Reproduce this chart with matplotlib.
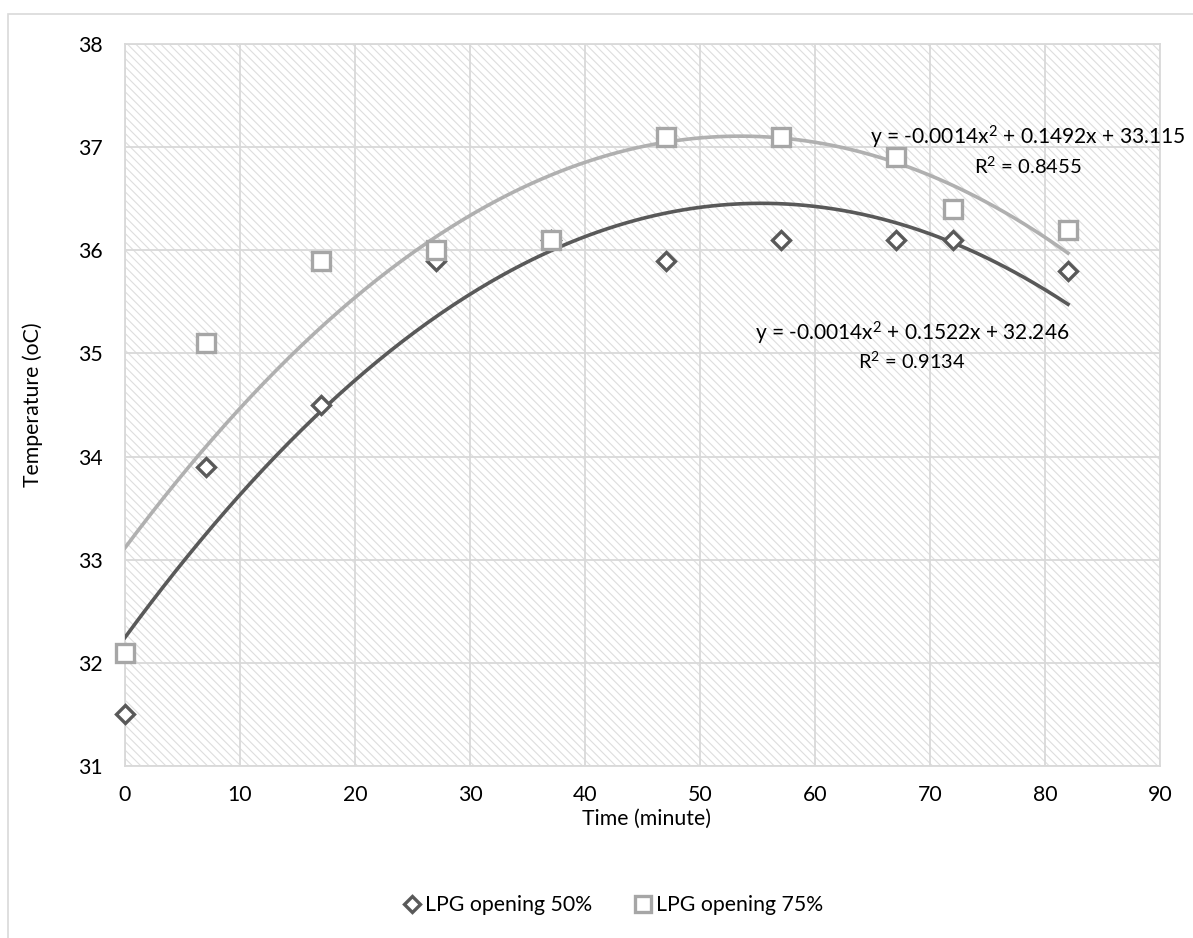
import numpy as np
import matplotlib
matplotlib.use("Agg")
import matplotlib.pyplot as plt
from matplotlib.patches import Rectangle

plt.rcParams['font.family'] = ['Lato', 'DejaVu Sans']
plt.rcParams['mathtext.fontset'] = 'custom'
plt.rcParams['mathtext.rm'] = 'Lato'
plt.rcParams['mathtext.it'] = 'Lato'
plt.rcParams['mathtext.default'] = 'rm'
plt.rcParams['hatch.linewidth'] = 0.8

time_50 = [0, 7, 17, 27, 37, 47, 57, 67, 72, 82]
temp_50 = [31.5, 33.9, 34.5, 35.9, 36.1, 35.9, 36.1, 36.1, 36.1, 35.8]
time_75 = [0, 7, 17, 27, 37, 47, 57, 67, 72, 82]
temp_75 = [32.1, 35.1, 35.9, 36.0, 36.1, 37.1, 37.1, 36.9, 36.4, 36.2]
label_50 = "LPG opening 50%"
label_75 = "LPG opening 75%"
eq_50 = "y = -0.0014x$^{2}$ + 0.1522x + 32.246"
r2_50 = "R$^{2}$ = 0.9134"
eq_75 = "y = -0.0014x$^{2}$ + 0.1492x + 33.115"
r2_75 = "R$^{2}$ = 0.8455"
xticks = list(range(0, 91, 10))
yticks = list(range(31, 39))

W, H = 1193, 938
fig = plt.figure(figsize=(W / 100, H / 100), dpi=100)
renderer = fig.canvas.get_renderer()

# choose a font size so that the legend label width matches the reference (~167 px)
probe = fig.text(0, 0, label_50, fontsize=10)
pw = probe.get_window_extent(renderer).width
probe.remove()
FS = 10 * 167.0 / pw


def fitted_text(x, y, s, width_px, **kw):
    t = fig.text(x / W, 1 - y / H, s, fontsize=10, ha='right', va='center', **kw)
    w = t.get_window_extent(renderer).width
    t.set_fontsize(10 * width_px / w)
    return t


fig.patches.append(Rectangle((8 / W, -0.1), 1.2, 1.1 - 14 / H, transform=fig.transFigure,
                             fill=False, edgecolor='#d9d9d9', linewidth=1.2))
ax = fig.add_axes([125 / W, 1 - 766 / H, (1160 - 125) / W, (766 - 44) / H])
ax.set_xlim(0, 90)
ax.set_ylim(31, 38)
ax.add_patch(Rectangle((0, 31), 90, 7, facecolor='white', edgecolor='#dedede', linewidth=0,
                       hatch='\\\\\\\\', zorder=0))
ax.set_xticks(xticks)
ax.set_yticks(yticks)
ax.grid(True, color='#d9d9d9', linewidth=1.3, zorder=1)
ax.set_axisbelow(True)
for s in ax.spines.values():
    s.set_color('#d9d9d9')
    s.set_linewidth(1.3)
ax.tick_params(axis='x', length=0, labelsize=FS, colors='#000000', pad=14)
ax.tick_params(axis='y', length=0, labelsize=FS, colors='#000000', pad=16)

# quadratic trendlines (least-squares fit of the plotted data)
c50 = np.polyfit(time_50, temp_50, 2)
c75 = np.polyfit(time_75, temp_75, 2)
xs50 = np.linspace(min(time_50), max(time_50), 300)
xs75 = np.linspace(min(time_75), max(time_75), 300)
ax.plot(xs50, np.polyval(c50, xs50), color='#595959', linewidth=2.6, zorder=3)
ax.plot(xs75, np.polyval(c75, xs75), color='#b0b0b0', linewidth=2.6, zorder=3)

ax.plot(time_50, temp_50, linestyle='none', marker='D', markersize=9,
        markerfacecolor='white', markeredgecolor='#595959', markeredgewidth=2.4,
        zorder=4, label=label_50, clip_on=False)
ax.plot(time_75, temp_75, linestyle='none', marker='s', markersize=13,
        markerfacecolor='white', markeredgecolor='#a6a6a6', markeredgewidth=2.4,
        zorder=5, label=label_75, clip_on=False)

fitted_text(1186, 137, eq_75, 316, color='#000000', zorder=6)
fitted_text(1082, 166, r2_75, 109, color='#000000', zorder=6)
fitted_text(1069, 333, eq_50, 315, color='#000000', zorder=6)
fitted_text(965, 361, r2_50, 108, color='#000000', zorder=6)

fig.text(33 / W, 1 - 405 / H, "Temperature (oC)", rotation=90, ha='center', va='center',
         fontsize=FS)
fig.text(647 / W, 1 - 819 / H, "Time (minute)", ha='center', va='center', fontsize=FS)

leg = fig.legend(loc='center', bbox_to_anchor=(612 / W, 1 - 905 / H), ncol=2, frameon=False,
                 fontsize=FS, handletextpad=0.1, columnspacing=1.9, handlelength=1.0,
                 markerscale=0.85)
plt.savefig('out.png', dpi=100)
